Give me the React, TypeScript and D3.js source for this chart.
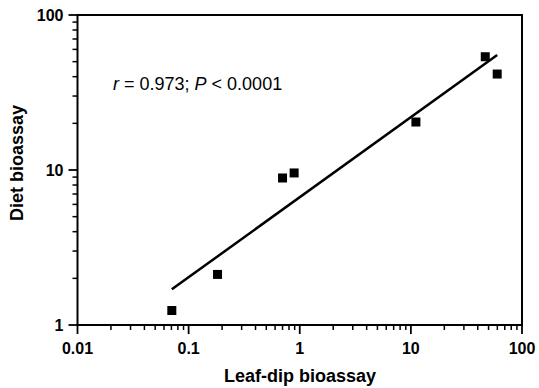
import React, { useEffect, useRef } from 'react';
import * as d3 from 'd3';

// leaf-dip vs diet bioassay (LC50 values)
const leafDip = [0.0706, 0.182, 0.70, 0.89, 11.1, 46.7, 59.8];
const diet = [1.24, 2.12, 8.88, 9.57, 20.4, 53.8, 41.6];
const xTicks = [0.01, 0.1, 1, 10, 100];
const yTicks = [1, 10, 100];
const xLabels = ['0.01', '0.1', '1', '10', '100'];
const yLabels = ['1', '10', '100'];

const W = 539, H = 388;

const App = () => {
    const ref = useRef<SVGSVGElement>(null);

    useEffect(() => {
        const svg = d3.select(ref.current);
        svg.selectAll('*').remove();

        const margin = { top: 15, right: 17, bottom: 63, left: 77.5 };
        const x = d3.scaleLog().domain([0.01, 100]).range([margin.left, W - margin.right]);
        const y = d3.scaleLog().domain([1, 100]).range([H - margin.bottom, margin.top]);
        const font = '"Liberation Sans", Arial, sans-serif';

        // frame
        svg.append('rect')
            .attr('x', x(0.01)).attr('y', y(100))
            .attr('width', x(100) - x(0.01)).attr('height', y(1) - y(100))
            .attr('fill', 'none').attr('stroke', '#000').attr('stroke-width', 2);

        // minor ticks
        const xMinor = d3.range(-2, 2).flatMap(e => d3.range(2, 10).map(m => m * Math.pow(10, e)));
        const yMinor = d3.range(0, 2).flatMap(e => d3.range(2, 10).map(m => m * Math.pow(10, e)));

        svg.append('g').selectAll('line').data(xMinor).join('line')
            .attr('x1', d => x(d)).attr('x2', d => x(d))
            .attr('y1', y(1)).attr('y2', y(1) + 5)
            .attr('stroke', '#000').attr('stroke-width', 1.5);
        svg.append('g').selectAll('line').data(yMinor).join('line')
            .attr('y1', d => y(d)).attr('y2', d => y(d))
            .attr('x1', x(0.01)).attr('x2', x(0.01) - 5)
            .attr('stroke', '#000').attr('stroke-width', 1.5);

        // major ticks + labels
        svg.append('g').selectAll('line').data(xTicks).join('line')
            .attr('x1', d => x(d)).attr('x2', d => x(d))
            .attr('y1', y(1)).attr('y2', y(1) + 9)
            .attr('stroke', '#000').attr('stroke-width', 1.8);
        svg.append('g').selectAll('line').data(yTicks).join('line')
            .attr('y1', d => y(d)).attr('y2', d => y(d))
            .attr('x1', x(0.01)).attr('x2', x(0.01) - 9)
            .attr('stroke', '#000').attr('stroke-width', 1.8);

        svg.append('g').selectAll('text').data(xTicks).join('text')
            .attr('x', d => x(d)).attr('y', y(1) + 29)
            .attr('text-anchor', 'middle')
            .style('font-family', font).style('font-weight', 'bold').style('font-size', '16px')
            .text((d, i) => xLabels[i]);
        svg.append('g').selectAll('text').data(yTicks).join('text')
            .attr('x', x(0.01) - 14).attr('y', d => y(d) + 6)
            .attr('text-anchor', 'end')
            .style('font-family', font).style('font-weight', 'bold').style('font-size', '16px')
            .text((d, i) => yLabels[i]);

        // axis titles
        svg.append('text')
            .attr('x', 300).attr('y', H - 6)
            .attr('text-anchor', 'middle')
            .style('font-family', font).style('font-weight', 'bold').style('font-size', '18px')
            .text('Leaf-dip bioassay');
        svg.append('text')
            .attr('transform', `translate(23,163) rotate(-90)`)
            .attr('text-anchor', 'middle')
            .style('font-family', font).style('font-weight', 'bold').style('font-size', '18px')
            .text('Diet bioassay');

        // least squares fit in log-log space
        const lx = leafDip.map(Math.log10), ly = diet.map(Math.log10);
        const mx = d3.mean(lx)!, my = d3.mean(ly)!;
        const slope = d3.sum(lx, (v, i) => (v - mx) * (ly[i] - my)) / d3.sum(lx, v => (v - mx) ** 2);
        const fit = d3.extent(leafDip).map(v => [v!, Math.pow(10, my + slope * (Math.log10(v!) - mx))]);

        svg.append('path')
            .datum(fit)
            .attr('d', d3.line<number[]>().x(d => x(d[0])).y(d => y(d[1])))
            .attr('fill', 'none').attr('stroke', '#000').attr('stroke-width', 2.5);

        // points
        const s = 9;
        svg.append('g').selectAll('rect').data(leafDip).join('rect')
            .attr('x', d => x(d) - s / 2)
            .attr('y', (d, i) => y(diet[i]) - s / 2)
            .attr('width', s).attr('height', s)
            .attr('fill', '#000');

        // annotation
        const note = svg.append('text')
            .attr('x', 113).attr('y', 90)
            .style('font-family', font).style('font-size', '18px');
        note.append('tspan').style('font-style', 'italic').text('r');
        note.append('tspan').text(' = 0.973; ');
        note.append('tspan').style('font-style', 'italic').text('P');
        note.append('tspan').text(' < 0.0001');
    }, []);

    return (
        <svg ref={ref} width={W} height={H}
            style={{ position: 'absolute', left: 0, top: 0, background: '#fff' }} />
    );
};

export default App;
